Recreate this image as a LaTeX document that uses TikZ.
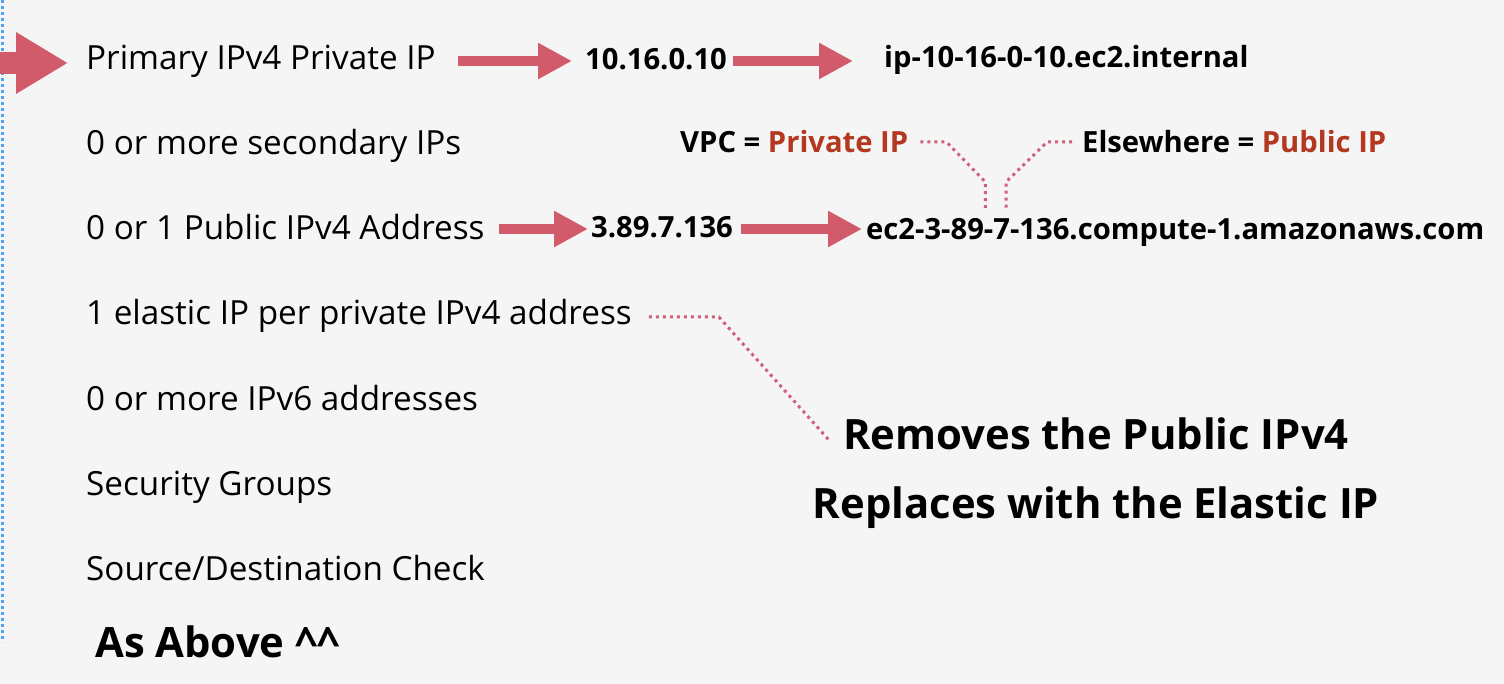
\documentclass[tikz,border=0pt]{standalone}
\usepackage{fontspec}
\setmainfont{Open Sans}
\usetikzlibrary{arrows.meta,calc}
\definecolor{bgc}{HTML}{F5F5F5}
\definecolor{arrowc}{HTML}{D25B6B}
\definecolor{redtxt}{HTML}{B3381F}
\definecolor{dotc}{HTML}{D0607A}
\definecolor{bluec}{HTML}{4DA3F5}
\tikzset{
  reg/.style={inner sep=0pt, anchor=base west, font=\fontsize{33.25}{40}\selectfont},
  bsmall/.style={inner sep=0pt, anchor=base west, font=\fontsize{29.2}{35}\selectfont\bfseries},
  bbig/.style={inner sep=0pt, anchor=base, font=\fontsize{41.8}{50}\selectfont\bfseries},
  bigarrow/.style={draw=arrowc, line width=10pt, -{Triangle[length=34pt,width=34pt]}, arrowc},
  leftarrow/.style={draw=arrowc, line width=22pt, -{Triangle[length=52pt,width=58pt]}, arrowc},
  dotline/.style={draw=dotc, line width=3pt, dash pattern=on 3pt off 4pt},
}
\begin{document}
\begin{tikzpicture}[x=1pt,y=-1pt]
\fill[bgc] (0,0) rectangle (1504,684);
\useasboundingbox (0,0) rectangle (1504,684);
\draw[bluec, line width=3pt, dash pattern=on 3pt off 3pt] (2,0) -- (2,642);
% level coordinates
\coordinate (r1) at (0,61);
\coordinate (r2) at (0,142);
\coordinate (r3) at (0,229);
\coordinate (r4) at (0,317);
\coordinate (edge) at (-2,63);
% left column
\node[reg] (prim) at (86,70) {Primary IPv4 Private IP};
\node[reg] (sec) at (86,155) {0 or more secondary IPs};
\node[reg] (pub) at (86,240) {0 or 1 Public IPv4 Address};
\node[reg] (eip) at (86,325) {1 elastic IP per private IPv4 address};
\node[reg] (ipv6) at (86,410) {0 or more IPv6 addresses};
\node[reg] (sg) at (86,495) {Security Groups};
\node[reg] (sdc) at (86,580) {Source/Destination Check};
\node[inner sep=0pt, anchor=base west, font=\fontsize{41.8}{50}\selectfont\bfseries] (asab) at (95,657) {As Above \textasciicircum\textasciicircum};
% right texts
\node[bsmall] (ip1) at (585,70) {10.16.0.10};
\node[bsmall] (host1) at (884,68) {ip-10-16-0-10.ec2.internal};
\node[bsmall] (vpc) at (680,153) {VPC = \textcolor{redtxt}{Private IP}};
\node[bsmall] (else) at (1082,153) {Elsewhere = \textcolor{redtxt}{Public IP}};
\node[bsmall] (ip3) at (591,238) {3.89.7.136};
\node[bsmall] (dns) at (866,240) {ec2-3-89-7-136.compute-1.amazonaws.com};
\node[bbig] (rem) at (1096,449) {Removes the Public IPv4};
\node[bbig] (rep) at (1096,518) {Replaces with the Elastic IP};
% arrows
\draw[leftarrow] (edge) -- ([xshift=-18pt]prim.west |- edge);
\draw[bigarrow] ([xshift=22pt]prim.east |- r1) -- ([xshift=-13pt]ip1.west |- r1);
\draw[bigarrow] ([xshift=6pt]ip1.east |- r1) -- ([xshift=-31pt]host1.west |- r1);
\draw[bigarrow] ([xshift=14pt]pub.east |- r3) -- ([xshift=-3pt]ip3.west |- r3);
\draw[bigarrow] ([xshift=8pt]ip3.east |- r3) -- ([xshift=-4pt]dns.west |- r3);
% dotted connectors
\draw[dotline] ([xshift=12pt]vpc.east |- r2) -- ++(26,0) -- ++(39,40) -- ++(0,26);
\draw[dotline] ([xshift=-10pt]else.west |- r2) -- ++(-25,0) -- ++(-41,40) -- ++(0,26);
\draw[dotline] ([xshift=17pt]eip.east |- r4) -- ++(70,0) -- ([xshift=-13pt,yshift=-8pt]rem.west);
\end{tikzpicture}
\end{document}
